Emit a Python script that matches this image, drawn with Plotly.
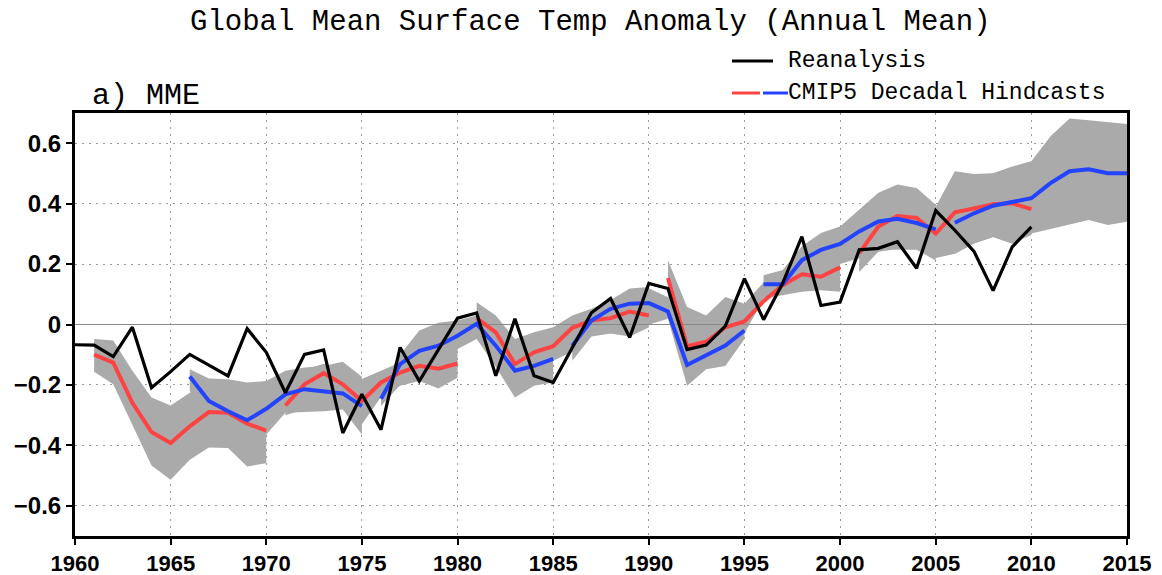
import plotly.graph_objects as go

# ---------------- data ----------------
obs_years = list(range(1960, 2011))
reanalysis = [-0.067, -0.068, -0.106, -0.009, -0.209, -0.156, -0.099, -0.135, -0.170, -0.014,
              -0.092, -0.226, -0.099, -0.084, -0.359, -0.231, -0.348, -0.076, -0.187, -0.083,
              0.021, 0.038, -0.170, 0.019, -0.170, -0.192, -0.077, 0.039, 0.086, -0.043,
              0.136, 0.119, -0.083, -0.068, -0.005, 0.152, 0.016, 0.137, 0.291, 0.063,
              0.074, 0.247, 0.252, 0.274, 0.186, 0.377, 0.312, 0.242, 0.112, 0.257,
              0.323]

red_starts = [1961, 1971, 1981, 1991, 2001]
red_mean = [
    [-0.100, -0.126, -0.259, -0.356, -0.392, -0.337, -0.290, -0.292, -0.328, -0.351],
    [-0.268, -0.198, -0.161, -0.198, -0.253, -0.192, -0.159, -0.137, -0.146, -0.129],
    [0.021, -0.026, -0.131, -0.092, -0.072, -0.011, 0.013, 0.021, 0.043, 0.030],
    [0.154, -0.072, -0.057, -0.009, 0.010, 0.077, 0.130, 0.166, 0.158, 0.189],
    [0.236, 0.324, 0.359, 0.353, 0.301, 0.371, 0.384, 0.398, 0.401, 0.382],
]
red_upper = [
    [-0.048, -0.053, -0.153, -0.242, -0.268, -0.226, -0.200, -0.200, -0.230, -0.250],
    [-0.200, -0.150, -0.130, -0.150, -0.180, -0.153, -0.126, -0.090, -0.090, -0.070],
    [0.074, 0.030, -0.048, -0.026, -0.009, 0.030, 0.052, 0.080, 0.119, 0.124],
    [0.213, 0.058, 0.030, 0.091, 0.069, 0.140, 0.170, 0.200, 0.200, 0.230],
    [0.350, 0.420, 0.450, 0.440, 0.390, 0.507, 0.498, 0.501, 0.523, 0.540],
]
red_lower = [
    [-0.156, -0.198, -0.331, -0.467, -0.514, -0.448, -0.407, -0.409, -0.470, -0.459],
    [-0.300, -0.280, -0.260, -0.280, -0.330, -0.240, -0.203, -0.187, -0.212, -0.176],
    [-0.030, -0.100, -0.200, -0.160, -0.120, -0.090, -0.030, -0.030, -0.040, -0.010],
    [0.090, -0.130, -0.110, -0.060, -0.030, 0.086, 0.097, 0.108, 0.113, 0.108],
    [0.174, 0.241, 0.250, 0.250, 0.220, 0.234, 0.268, 0.290, 0.268, 0.296],
]

blue_starts = [1966, 1976, 1986, 1996, 2006]
blue_mean = [
    [-0.172, -0.253, -0.287, -0.317, -0.279, -0.231, -0.214, -0.220, -0.228, -0.270],
    [-0.246, -0.131, -0.087, -0.070, -0.037, 0.002, -0.070, -0.153, -0.137, -0.114],
    [-0.070, 0.013, 0.052, 0.069, 0.071, 0.043, -0.134, -0.103, -0.070, -0.020],
    [0.133, 0.133, 0.213, 0.247, 0.267, 0.308, 0.341, 0.350, 0.336, 0.315],
    [0.337, 0.368, 0.393, 0.407, 0.418, 0.468, 0.507, 0.514, 0.501, 0.501],
]
blue_upper = [
    [-0.148, -0.179, -0.181, -0.192, -0.187, -0.153, -0.142, -0.137, -0.123, -0.173],
    [-0.200, -0.100, -0.020, 0.006, 0.013, 0.030, -0.020, -0.090, -0.060, -0.040],
    [-0.030, 0.050, 0.080, 0.115, 0.120, 0.090, -0.060, -0.050, -0.020, 0.020],
    [0.163, 0.180, 0.259, 0.303, 0.324, 0.380, 0.436, 0.463, 0.452, 0.396],
    [0.500, 0.490, 0.500, 0.520, 0.540, 0.623, 0.682, 0.676, 0.671, 0.664],
]
blue_lower = [
    [-0.220, -0.320, -0.360, -0.380, -0.364, -0.292, -0.289, -0.287, -0.281, -0.364],
    [-0.270, -0.200, -0.160, -0.140, -0.081, -0.048, -0.140, -0.242, -0.203, -0.192],
    [-0.120, -0.040, -0.030, -0.020, 0.000, 0.019, -0.203, -0.148, -0.137, -0.048],
    [0.090, 0.100, 0.150, 0.170, 0.200, 0.219, 0.252, 0.247, 0.247, 0.212],
    [0.234, 0.268, 0.290, 0.268, 0.301, 0.318, 0.331, 0.346, 0.329, 0.340],
]

x_ticks = list(range(1960, 2016, 5))
y_ticks = [-0.6, -0.4, -0.2, 0, 0.2, 0.4, 0.6]

title_text = "Global Mean Surface Temp Anomaly (Annual Mean)"
panel_text = "a) MME"
legend_obs = "Reanalysis"
legend_model = "CMIP5 Decadal Hindcasts"

# ---------------- styles ----------------
GRAY = "#aaaaaa"
RED = "#ff4242"
BLUE = "#2343ff"
MONO = "Liberation Mono, Courier New, monospace"
SANS = "Liberation Sans, Arial, sans-serif"

fig = go.Figure()

# spread bands
for starts, ups, los in ((red_starts, red_upper, red_lower), (blue_starts, blue_upper, blue_lower)):
    for s, up, lo in zip(starts, ups, los):
        yrs = list(range(s, s + len(up)))
        fig.add_trace(go.Scatter(
            x=yrs + yrs[::-1], y=up + lo[::-1], fill="toself", fillcolor=GRAY,
            line=dict(width=0, color=GRAY), mode="lines", hoverinfo="skip", showlegend=False))

# zero reference line (drawn above the bands)
fig.add_trace(go.Scatter(x=[x_ticks[0], x_ticks[-1]], y=[0, 0], mode="lines",
                         line=dict(color="#8a8a8a", width=1), hoverinfo="skip", showlegend=False))

# hindcast means
for starts, means, col in ((red_starts, red_mean, RED), (blue_starts, blue_mean, BLUE)):
    for s, m in zip(starts, means):
        yrs = list(range(s, s + len(m)))
        fig.add_trace(go.Scatter(x=yrs, y=m, mode="lines", line=dict(color=col, width=4),
                                 showlegend=False))

# reanalysis
fig.add_trace(go.Scatter(x=obs_years, y=reanalysis, mode="lines",
                         line=dict(color="black", width=3.2), showlegend=False))

axis_common = dict(showline=True, mirror=True, linewidth=3, linecolor="black",
                   ticks="outside", tickwidth=2, tickcolor="black",
                   showgrid=True, gridcolor="#9a9a9a", gridwidth=1, griddash="2px,5px",
                   zeroline=False, automargin=False)

fig.update_xaxes(range=[1960, 2015], tickmode="array", tickvals=x_ticks,
                 ticktext=[str(v) for v in x_ticks], ticklen=6,
                 tickfont=dict(family=SANS, size=22, color="black", weight="bold"),
                 **axis_common)
fig.update_yaxes(range=[-0.7, 0.7], tickmode="array", tickvals=y_ticks,
                 ticktext=[("\u2212" if v < 0 else "") + (f"{abs(v):.1f}" if v != 0 else "0") for v in y_ticks],
                 ticklen=6,
                 tickfont=dict(family=SANS, size=24, color="black", weight="bold"),
                 **axis_common)

# page has an 8px body margin: figure placed at (8, 8) in the 1162x575 window
OFF = 8
PAGE_W, PAGE_H = 1162, 575
W, H = PAGE_W - OFF, PAGE_H - OFF
# plot-area edges in page pixels
PL, PR, PT, PB = 75, 1127, 113, 536
L, R, T, B = PL - OFF, W - (PR - OFF), PT - OFF, H - (PB - OFF)
pw, ph = PR - PL, PB - PT


def px(xp):
    return (xp - PL) / pw


def py(yp):
    return (PB - yp) / ph


annotations = [
    dict(text=title_text, x=px(590), y=py(23), xref="paper", yref="paper",
         xanchor="center", yanchor="middle", showarrow=False,
         font=dict(family=MONO, size=29, color="black")),
    dict(text=panel_text, x=px(90), y=py(96), xref="paper", yref="paper",
         xanchor="left", yanchor="middle", showarrow=False,
         font=dict(family=MONO, size=30, color="black")),
    dict(text=legend_obs, x=px(786), y=py(61), xref="paper", yref="paper",
         xanchor="left", yanchor="middle", showarrow=False,
         font=dict(family=MONO, size=23, color="black")),
    dict(text=legend_model, x=px(786), y=py(93), xref="paper", yref="paper",
         xanchor="left", yanchor="middle", showarrow=False,
         font=dict(family=MONO, size=23, color="black")),
]

shapes = [
    dict(type="line", xref="paper", yref="paper", x0=px(732), x1=px(773), y0=py(61), y1=py(61),
         line=dict(color="black", width=3)),
    dict(type="line", xref="paper", yref="paper", x0=px(732), x1=px(760), y0=py(93), y1=py(93),
         line=dict(color=RED, width=3)),
    dict(type="line", xref="paper", yref="paper", x0=px(763), x1=px(788), y0=py(93), y1=py(93),
         line=dict(color=BLUE, width=3)),
]

fig.update_layout(width=W, height=H, margin=dict(l=L, r=R, t=T, b=B),
                  paper_bgcolor="white", plot_bgcolor="white",
                  annotations=annotations, shapes=shapes, showlegend=False)

fig.write_html("out.html")
